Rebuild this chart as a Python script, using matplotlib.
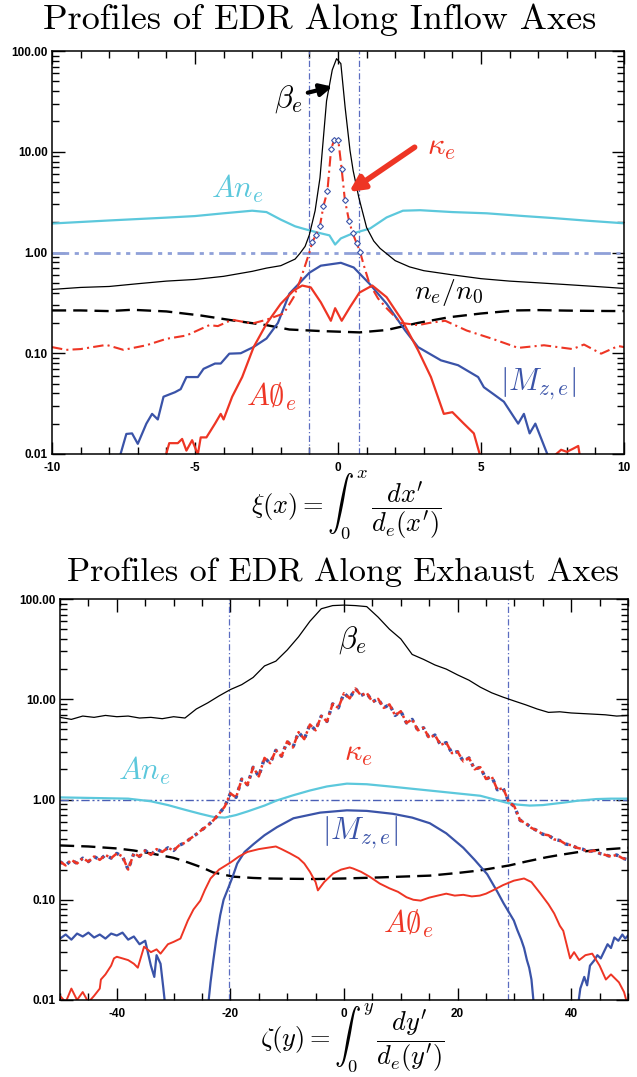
import numpy as np
import matplotlib
matplotlib.use("Agg")
import matplotlib.pyplot as plt
from matplotlib.ticker import FixedLocator, FixedFormatter, MultipleLocator, LogLocator, NullFormatter

plt.rcParams["mathtext.fontset"] = "cm"
plt.rcParams["axes.unicode_minus"] = False

# ---------------- top panel: inflow axis (xi) ----------------
beta_in_x = [-10, -9, -8, -7, -6, -5, -4, -3, -2.5, -2, -1.5, -1.33, -1.15, -1.0, -0.8, -0.63,
             -0.4, -0.2, -0.05, 0.1, 0.25, 0.42, 0.53, 0.73, 1.0, 1.25, 1.47, 2, 2.5, 3, 4, 5,
             6, 7, 8, 9, 10]
beta_in_v = [0.43, 0.45, 0.46, 0.49, 0.52, 0.54, 0.58, 0.65, 0.70, 0.74, 0.86, 0.98, 1.15, 1.5,
             2.6, 5.5, 32, 65, 84, 75, 27.5, 10.3, 6.5, 3.5, 1.77, 1.3, 1.1, 0.83, 0.72, 0.66,
             0.60, 0.55, 0.52, 0.50, 0.48, 0.46, 0.44]

ane_in_x = [-10, -8, -6, -5, -4, -3, -2.5, -2.0, -1.5, -1.2, -0.9, -0.6, -0.3, -0.1, 0.1, 0.4,
            0.7, 1.12, 1.7, 2.27, 2.87, 4, 5.2, 6.5, 7.5, 8.7, 10]
ane_in_v = [1.94, 2.08, 2.22, 2.3, 2.45, 2.6, 2.52, 2.12, 1.82, 1.72, 1.63, 1.55, 1.48, 1.2,
            1.38, 1.5, 1.6, 1.73, 2.23, 2.6, 2.63, 2.52, 2.45, 2.3, 2.2, 2.07, 1.95]

dens_in_x = [-10, -9, -8, -7.2, -6, -4.8, -3.6, -2.5, -1.7, -0.6, 0.75, 1.7, 2.8, 3.9, 5.0,
             6.2, 7, 8, 9, 10]
dens_in_v = [0.266, 0.266, 0.262, 0.27, 0.26, 0.237, 0.21, 0.19, 0.172, 0.166, 0.161, 0.17,
             0.20, 0.228, 0.248, 0.266, 0.268, 0.265, 0.263, 0.262]

kap_in_x = [-10, -9.5, -9, -8.1, -7.5, -6.7, -6.0, -5.3, -4.5, -4.2, -3.7, -3.0, -2.5, -1.9,
            -1.55, -1.3, -1.0, -0.9, -0.77, -0.63, -0.51, -0.37, -0.24, -0.13, 0.01, 0.13,
            0.24, 0.39, 0.51, 0.65, 0.77, 0.9, 1.1, 1.4, 1.7, 2.2, 2.8, 3.2, 3.75, 4.5, 5.4,
            6.3, 7.2, 8.2, 8.6, 9.2, 9.8, 10]
kap_in_v = [0.115, 0.108, 0.11, 0.121, 0.108, 0.12, 0.139, 0.15, 0.19, 0.186, 0.215, 0.197,
            0.215, 0.248, 0.36, 0.55, 1.0, 1.26, 1.5, 1.85, 2.88, 4.07, 10.7, 13.1, 13.1,
            6.67, 3.33, 2.04, 1.56, 1.24, 1.02, 0.75, 0.49, 0.35, 0.28, 0.2, 0.19, 0.2, 0.21,
            0.168, 0.139, 0.113, 0.12, 0.11, 0.122, 0.099, 0.118, 0.115]

kfit_in_x = [-0.9, -0.77, -0.63, -0.51, -0.37, -0.24, -0.13, 0.01, 0.13, 0.24, 0.39, 0.51,
             0.65, 0.77]
kfit_in_v = [1.26, 1.5, 1.85, 2.88, 4.07, 10.7, 13.1, 13.1, 6.67, 3.33, 2.04, 1.56, 1.24, 1.02]

mz_in_x = [-7.7, -7.4, -7.2, -7.0, -6.7, -6.5, -6.3, -6.1, -5.7, -5.5, -5.3, -4.9, -4.7, -4.3,
           -4.1, -3.8, -3.4, -2.96, -2.5, -2.1, -1.7, -1.0, -0.6, 0.1, 0.55, 1.1, 1.7, 2.35,
           2.8, 3.6, 4.2, 4.9, 5.1, 5.45, 5.8, 6.3, 6.5, 6.7, 6.9, 7.45]
mz_in_v = [0.008, 0.0158, 0.016, 0.0126, 0.02, 0.025, 0.022, 0.037, 0.041, 0.044, 0.058,
           0.058, 0.07, 0.079, 0.079, 0.099, 0.1, 0.115, 0.14, 0.2, 0.39, 0.63, 0.74, 0.79,
           0.71, 0.49, 0.31, 0.168, 0.115, 0.085, 0.076, 0.058, 0.046, 0.039, 0.033, 0.02,
           0.025, 0.016, 0.02, 0.008]

aphi_in_x = [-6.1, -5.9, -5.6, -5.45, -5.3, -5.1, -4.9, -4.8, -4.6, -4.3, -4.1, -4.0, -3.7,
             -3.35, -2.95, -2.5, -2.0, -1.55, -1.25, -0.95, -0.6, -0.25, -0.1, 0.13, 0.43,
             0.75, 1.2, 1.7, 2.25, 2.8, 3.25, 3.7, 4.0, 4.4, 4.75, 5.05]
aphi_in_v = [0.008, 0.0128, 0.0128, 0.0141, 0.0108, 0.0137, 0.0099, 0.0146, 0.0146, 0.02,
             0.025, 0.022, 0.037, 0.058, 0.115, 0.196, 0.31, 0.42, 0.47, 0.45, 0.32, 0.21,
             0.28, 0.21, 0.29, 0.40, 0.47, 0.36, 0.21, 0.107, 0.058, 0.025, 0.026, 0.02,
             0.016, 0.008]
# short stretch of the same curve that peeks above the floor on the right
aphi_in_tail_x = [7.6, 7.8, 8.0, 8.2, 8.4, 8.5]
aphi_in_tail_v = [0.0098, 0.011, 0.0105, 0.0112, 0.012, 0.008]

edr_in_edges = [-1.0, 0.75]

# ---------------- bottom panel: exhaust axis (zeta) ----------------
beta_ex_x = list(range(-50, 51, 2))
beta_ex_v = [6.6, 6.3, 6.8, 6.6, 6.9, 6.7, 6.8, 6.5, 6.6, 6.4, 6.7, 6.5, 8.0, 9.2, 10.8, 12.5,
             14.0, 16.5, 21.5, 24.0, 31.0, 42.0, 60.0, 80.0, 86.0, 87.0, 86.0, 84.0, 66.0,
             50.0, 40.0, 28.0, 25.0, 22.0, 20.0, 17.5, 15.5, 13.2, 11.6, 10.5, 9.6, 8.8, 8.0,
             7.4, 7.5, 7.3, 7.2, 7.1, 7.0, 6.8, 6.9]

kap_ex_x = list(range(-50, 51))
kap_ex_v = [0.24, 0.22, 0.25, 0.23, 0.26, 0.24, 0.27, 0.25, 0.28, 0.26,
            0.29, 0.27, 0.20, 0.29, 0.27, 0.31, 0.28, 0.32, 0.30, 0.33,
            0.31, 0.35, 0.37, 0.41, 0.45, 0.50, 0.55, 0.62, 0.72, 0.85,
            1.15, 1.05, 1.6, 1.4, 2.1, 1.7, 2.6, 2.3, 3.1, 2.7,
            3.8, 3.3, 4.7, 4.0, 5.6, 4.9, 6.8, 6.0, 9.0, 8.2,
            11.5, 10.2, 12.8, 10.9, 11.6, 9.4, 10.1, 8.2, 8.9, 6.9,
            7.6, 5.8, 6.3, 4.9, 5.2, 4.1, 4.4, 3.5, 3.7, 2.9,
            3.0, 2.4, 2.6, 2.0, 2.1, 1.6, 1.7, 1.25, 1.3, 0.95,
            0.85, 0.62, 0.58, 0.52, 0.49, 0.45, 0.44, 0.40, 0.39, 0.36,
            0.35, 0.33, 0.32, 0.30, 0.31, 0.29, 0.28, 0.27, 0.28, 0.26,
            0.25]

ane_ex_x = [-50, -46, -42, -38, -34, -31, -28, -25.3, -23, -21, -19, -17, -14, -11.8, -9, -6,
            -3, 0.5, 4, 8.6, 12, 15, 20, 24, 26.5, 28.6, 30.5, 32.7, 35, 38.6, 41, 44.4, 47, 50]
ane_ex_v = [1.05, 1.04, 1.03, 1.02, 0.96, 0.88, 0.79, 0.72, 0.67, 0.66, 0.70, 0.76, 0.87,
            0.98, 1.1, 1.23, 1.35, 1.44, 1.42, 1.34, 1.28, 1.23, 1.15, 1.09, 1.0, 0.93, 0.89,
            0.87, 0.88, 0.93, 0.97, 1.01, 1.02, 1.02]

dens_ex_x = [-50, -45, -40, -37, -34, -30, -27.5, -25, -23, -19.5, -16, -13.5, -10, -5, 0,
             6.3, 10, 15.1, 20, 23.9, 27, 29.1, 32, 35.6, 38, 41.4, 45, 50]
dens_ex_v = [0.348, 0.34, 0.325, 0.31, 0.29, 0.262, 0.236, 0.21, 0.187, 0.17, 0.165, 0.163,
             0.162, 0.161, 0.163, 0.167, 0.17, 0.174, 0.185, 0.196, 0.21, 0.22, 0.24, 0.265,
             0.28, 0.30, 0.315, 0.33]

mz_ex_x = [-50, -49, -48, -47, -46, -45, -44, -43, -42, -41, -40, -39, -38, -37, -36, -35,
           -34.6, -34, -33.4, -33, -32.3, -31.8, -31.4,
           -24.0, -23.5, -23, -22.5, -21.8, -21.2, -20.4, -19.6, -18.8, -17.5, -15.9, -14,
           -11.8, -8.9, -4.2, 0.5, 4, 8.6, 12, 15.1, 18, 21, 23, 25.2, 27, 28.1, 29.9, 30.5,
           31.2, 31.7, 32.2, 32.6, 33, 33.5,
           41.1, 41.6, 42.3, 42.8, 43.3, 44.1, 44.6, 45.2, 46.4, 47, 47.6, 48.3, 49, 49.5, 50]
mz_ex_v = [0.041, 0.045, 0.040, 0.046, 0.043, 0.047, 0.042, 0.045, 0.041, 0.046, 0.044,
           0.047, 0.040, 0.043, 0.036, 0.039, 0.031, 0.022, 0.017, 0.028, 0.023, 0.013, 0.008,
           0.008, 0.015, 0.025, 0.04, 0.07, 0.1, 0.13, 0.17, 0.23, 0.3, 0.36, 0.44, 0.53,
           0.65, 0.74, 0.78, 0.77, 0.72, 0.66, 0.58, 0.46, 0.33, 0.25, 0.18, 0.12, 0.092,
           0.062, 0.05, 0.04, 0.033, 0.025, 0.021, 0.016, 0.008,
           0.008, 0.013, 0.017, 0.014, 0.022, 0.025, 0.028, 0.026, 0.036, 0.033, 0.042, 0.039,
           0.045, 0.041, 0.044]

aphi_ex_x = [-50, -49, -48, -47, -46, -45, -44, -43, -42.8, -42, -41, -40.5, -40, -39, -38,
             -37, -36.3, -35.2, -34, -33, -32.3, -31, -30, -28.8, -27.5, -26.5, -25.3, -24.5,
             -23.5, -22, -20, -18.5, -17, -15, -13.5, -12, -11, -9.5, -8, -7, -6, -5, -4.6,
             -3.5, -2.5, -1.9, -0.5, 1, 1.6, 3, 4.5, 6.3, 8, 9.5, 11, 12.2, 13.5, 15, 16.5, 18,
             19.5, 21, 22.5, 23.9, 25, 26.2, 28, 29.9, 31.7, 33, 34.6, 36, 37, 38, 38.6, 39.8,
             40.5, 41.4, 42.5, 43.7, 45, 46.1, 47, 48.4, 49.3, 49.9]
aphi_ex_v = [0.011, 0.0095, 0.013, 0.010, 0.012, 0.0095, 0.011, 0.013, 0.016, 0.018, 0.022,
             0.026, 0.027, 0.026, 0.025, 0.023, 0.021, 0.034, 0.030, 0.032, 0.029, 0.036,
             0.038, 0.041, 0.062, 0.080, 0.098, 0.125, 0.163, 0.20, 0.235, 0.27, 0.30, 0.32,
             0.33, 0.34, 0.32, 0.29, 0.26, 0.23, 0.19, 0.15, 0.124, 0.15, 0.17, 0.183, 0.20,
             0.21, 0.205, 0.19, 0.17, 0.145, 0.13, 0.12, 0.106, 0.10, 0.098, 0.105, 0.11,
             0.115, 0.11, 0.112, 0.108, 0.11, 0.115, 0.124, 0.14, 0.155, 0.163, 0.15, 0.115,
             0.09, 0.073, 0.055, 0.049, 0.026, 0.030, 0.025, 0.028, 0.029, 0.022, 0.016,
             0.018, 0.015, 0.012, 0.009]

edr_ex_edges = [-20.3, 28.9]

# colours
BLACK = "black"
CYAN = "#5cc8dc"
RED = "#ee3524"
BLUE = "#3a53a8"
VLINE = "#5a6cc0"

fig = plt.figure(figsize=(6.37, 10.77), dpi=100)
ax1 = fig.add_axes([0.0816, 0.5785, 0.898, 0.3741])
ax2 = fig.add_axes([0.0942, 0.0715, 0.8917, 0.3723])


def style_axes(ax, xlim, major, minor):
    ax.set_yscale("log")
    ax.set_ylim(0.01, 100)
    ax.set_xlim(*xlim)
    ax.yaxis.set_major_locator(FixedLocator([0.01, 0.1, 1, 10, 100]))
    ax.yaxis.set_major_formatter(FixedFormatter(["0.01", "0.10", "1.00", "10.00", "100.00"]))
    ax.yaxis.set_minor_locator(LogLocator(base=10, subs=np.arange(2, 10)))
    ax.yaxis.set_minor_formatter(NullFormatter())
    ax.xaxis.set_major_locator(MultipleLocator(major))
    ax.xaxis.set_minor_locator(MultipleLocator(minor))
    ax.tick_params(which="both", direction="in", top=True, right=True, width=1)
    ax.tick_params(which="major", length=9, labelsize=8.5)
    ax.tick_params(axis="x", which="major", pad=6)
    ax.tick_params(axis="y", which="major", pad=3)
    ax.tick_params(which="minor", length=5)
    for lab in ax.get_xticklabels() + ax.get_yticklabels():
        lab.set_fontfamily("Liberation Sans")
        lab.set_fontweight("bold")
    for sp in ax.spines.values():
        sp.set_linewidth(1.1)


# ---- top panel ----
style_axes(ax1, (-10, 10), 5, 1)
ax1.axhline(1.0, color="#8fa0d8", lw=2, dashes=(6, 2, 1.5, 2, 1.5, 2))
for e in edr_in_edges:
    ax1.axvline(e, color=VLINE, lw=0.9, dashes=(5, 2, 1, 2))
ax1.plot(dens_in_x, dens_in_v, color=BLACK, lw=1.7, dashes=(6, 3))
ax1.plot(ane_in_x, ane_in_v, color=CYAN, lw=1.6)
ax1.plot(beta_in_x, beta_in_v, color=BLACK, lw=0.9)
ax1.plot(mz_in_x, mz_in_v, color=BLUE, lw=1.6)
ax1.plot(aphi_in_x, aphi_in_v, color=RED, lw=1.6)
ax1.plot(aphi_in_tail_x, aphi_in_tail_v, color=RED, lw=1.6)
ax1.plot(kap_in_x, kap_in_v, color=RED, lw=1.5, dashes=(5, 2, 1, 2))
ax1.plot(kfit_in_x, kfit_in_v, ls="none", marker="D", ms=3, mfc="white", mec=BLUE, mew=0.8)

ax1.text(-1.75, 33, r"$\beta_e$", fontsize=22, ha="center", va="center", color=BLACK)
ax1.annotate("", xy=(-0.1, 45), xytext=(-1.15, 38),
             arrowprops=dict(arrowstyle="-|>", color=BLACK, lw=3, mutation_scale=18))
ax1.text(3.6, 11, r"$\kappa_e$", fontsize=22, ha="center", va="center", color=RED)
ax1.annotate("", xy=(0.31, 3.85), xytext=(2.76, 11.5),
             arrowprops=dict(arrowstyle="-|>", color=RED, lw=4, mutation_scale=22))
ax1.text(-3.53, 4.3, r"$An_e$", fontsize=22, ha="center", va="center", color=CYAN)
ax1.text(3.88, 0.40, r"$n_e/n_0$", fontsize=20, ha="center", va="center", color=BLACK)
ax1.text(7.0, 0.05, r"$|M_{z,e}|$", fontsize=22, ha="center", va="center", color=BLUE)
ax1.text(-2.34, 0.037, r"$A\emptyset_e$", fontsize=22, ha="center", va="center", color=RED)

# ---- bottom panel ----
style_axes(ax2, (-50, 50), 20, 5)
ax2.axhline(1.0, color="#4a5fb5", lw=1, dashes=(6, 2, 1.5, 2, 1.5, 2))
for e in edr_ex_edges:
    ax2.axvline(e, color=VLINE, lw=0.9, dashes=(5, 2, 1, 2))
ax2.plot(dens_ex_x, dens_ex_v, color=BLACK, lw=1.7, dashes=(6, 3))
ax2.plot(ane_ex_x, ane_ex_v, color=CYAN, lw=1.6)
ax2.plot(beta_ex_x, beta_ex_v, color=BLACK, lw=0.9)
ax2.plot(mz_ex_x, mz_ex_v, color=BLUE, lw=1.6)
ax2.plot(aphi_ex_x, aphi_ex_v, color=RED, lw=1.4)
ax2.plot(kap_ex_x, kap_ex_v, color=BLUE, lw=2.4, ls=":")
ax2.plot(kap_ex_x, kap_ex_v, color=RED, lw=1.8, dashes=(3, 1.2, 1, 1.2))

ax2.text(1.4, 38.5, r"$\beta_e$", fontsize=22, ha="center", va="center", color=BLACK)
ax2.text(2.5, 2.88, r"$\kappa_e$", fontsize=22, ha="center", va="center", color=RED)
ax2.text(-35.1, 1.95, r"$An_e$", fontsize=22, ha="center", va="center", color=CYAN)
ax2.text(2.8, 0.46, r"$|M_{z,e}|$", fontsize=22, ha="center", va="center", color=BLUE)
ax2.text(11.4, 0.058, r"$A\emptyset_e$", fontsize=22, ha="center", va="center", color=RED)

# titles and axis labels
fig.text(0.502, 1 - 20 / 1077, "Profiles of EDR Along Inflow Axes", family="cmr10",
         fontsize=26, ha="center", va="center")
fig.text(0.539, 1 - 572 / 1077, "Profiles of EDR Along Exhaust Axes", family="cmr10",
         fontsize=24.5, ha="center", va="center")
fig.text(346 / 637, 1 - 541 / 1077, r"$\xi(x) = \int_0^x\, \dfrac{dx'}{d_e(x')}$",
         fontsize=19, ha="center", va="bottom")
fig.text(352 / 637, 1 - 1074 / 1077, r"$\zeta(y) = \int_0^y\, \dfrac{dy'}{d_e(y')}$",
         fontsize=19, ha="center", va="bottom")

fig.savefig("out.png", dpi=100)
